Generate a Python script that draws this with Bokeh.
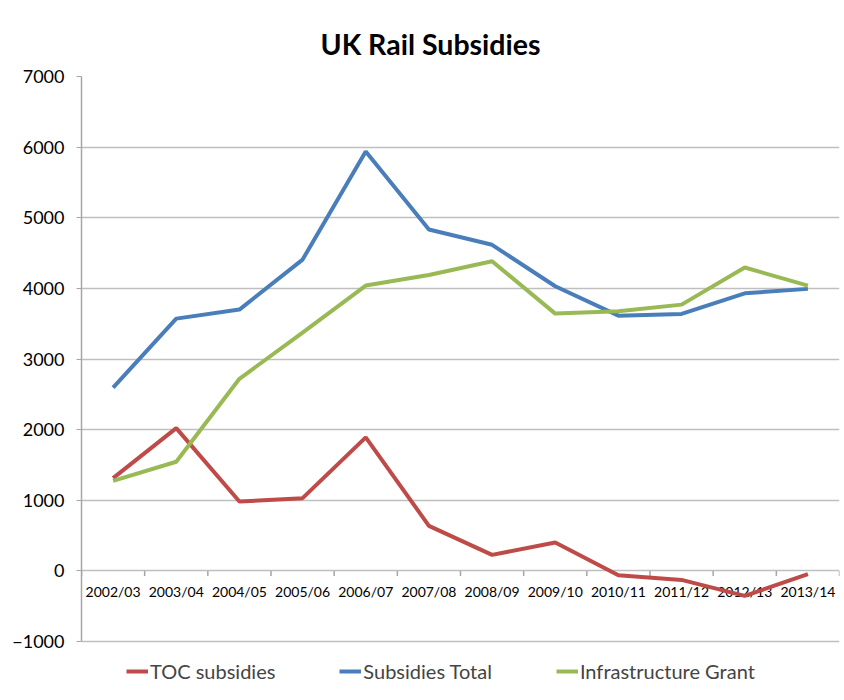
import math
from bokeh.plotting import figure
from bokeh.models import Range1d, FixedTicker, Legend, LegendItem
from bokeh.core.properties import value
from bokeh.embed import file_html
from bokeh.resources import INLINE

years = ["2002/03", "2003/04", "2004/05", "2005/06", "2006/07", "2007/08",
         "2008/09", "2009/10", "2010/11", "2011/12", "2012/13", "2013/14"]
toc_subsidies = [1314, 2022, 982, 1030, 1890, 638, 227, 401, -61, -128, -354, -47]
subsidies_total = [2594, 3572, 3700, 4408, 5939, 4833, 4617, 4030, 3614, 3638, 3930, 3993]
infrastructure_grant = [1275, 1545, 2720, 3373, 4040, 4190, 4384, 3643, 3676, 3770, 4295, 4040]
y_ticks = [-1000, 0, 1000, 2000, 3000, 4000, 5000, 6000, 7000]

FONT = "Lato"
n = len(years)
xs = [i + 0.5 for i in range(n)]

# extra room under the -1000 line holds the legend, as in the original chart
p = figure(width=842, height=696, output_backend="svg", toolbar_location=None,
           x_range=Range1d(0, n), y_range=Range1d(-1722, y_ticks[-1]),
           min_border_left=81, min_border_right=3, min_border_top=76, min_border_bottom=4)
p.outline_line_color = None
p.background_fill_color = "white"
p.border_fill_color = "white"

p.title.text = "UK Rail Subsidies"
p.title.text_font = FONT
p.title.text_font_size = "28.5px"
p.title.text_font_style = "bold"
p.title.align = "left"
p.title.offset = 239
p.title.standoff = 32
p.title.text_color = "black"

p.xaxis.visible = False

ya = p.yaxis[0]
ya.ticker = FixedTicker(ticks=y_ticks)
ya.bounds = (y_ticks[0], y_ticks[-1])
ya.axis_line_color = "#a6a6a6"
ya.axis_line_width = 1.5
ya.major_tick_line_color = "#a6a6a6"
ya.major_tick_in = 0
ya.major_tick_out = 5
ya.minor_tick_line_color = None
ya.major_label_text_font = FONT
ya.major_label_text_font_size = "18px"
ya.major_label_text_color = "black"
ya.major_label_standoff = 12

p.xgrid.grid_line_color = None
p.ygrid.ticker = FixedTicker(ticks=y_ticks)
p.ygrid.grid_line_color = "#bfbfbf"
p.ygrid.grid_line_width = 1.5

# category boundary tick marks hanging from the zero line
p.ray(x=list(range(n + 1)), y=[0] * (n + 1), length=5, length_units="screen",
      angle=-math.pi / 2, line_color="#a6a6a6", line_width=1.5)

# category labels just under the zero line
p.text(x=xs, y=[0] * n, text=years, text_font=value(FONT), text_font_size="14px",
       text_align="center", text_baseline="top", y_offset=12, text_color="black")

r1 = p.line(xs, toc_subsidies, line_color="#BE4B48", line_width=4)
r2 = p.line(xs, subsidies_total, line_color="#4A7EBB", line_width=4)
r3 = p.line(xs, infrastructure_grant, line_color="#98B954", line_width=4)

legend = Legend(items=[LegendItem(label="TOC subsidies", renderers=[r1]),
                       LegendItem(label="Subsidies Total", renderers=[r2]),
                       LegendItem(label="Infrastructure Grant", renderers=[r3])],
                orientation="horizontal", location=(45, 9),
                label_text_font=FONT, label_text_font_size="20px",
                glyph_width=22, label_standoff=2, spacing=64,
                border_line_color=None, background_fill_alpha=0,
                margin=0, padding=4)
p.add_layout(legend)

open("out.html", "w").write(file_html(p, INLINE))
